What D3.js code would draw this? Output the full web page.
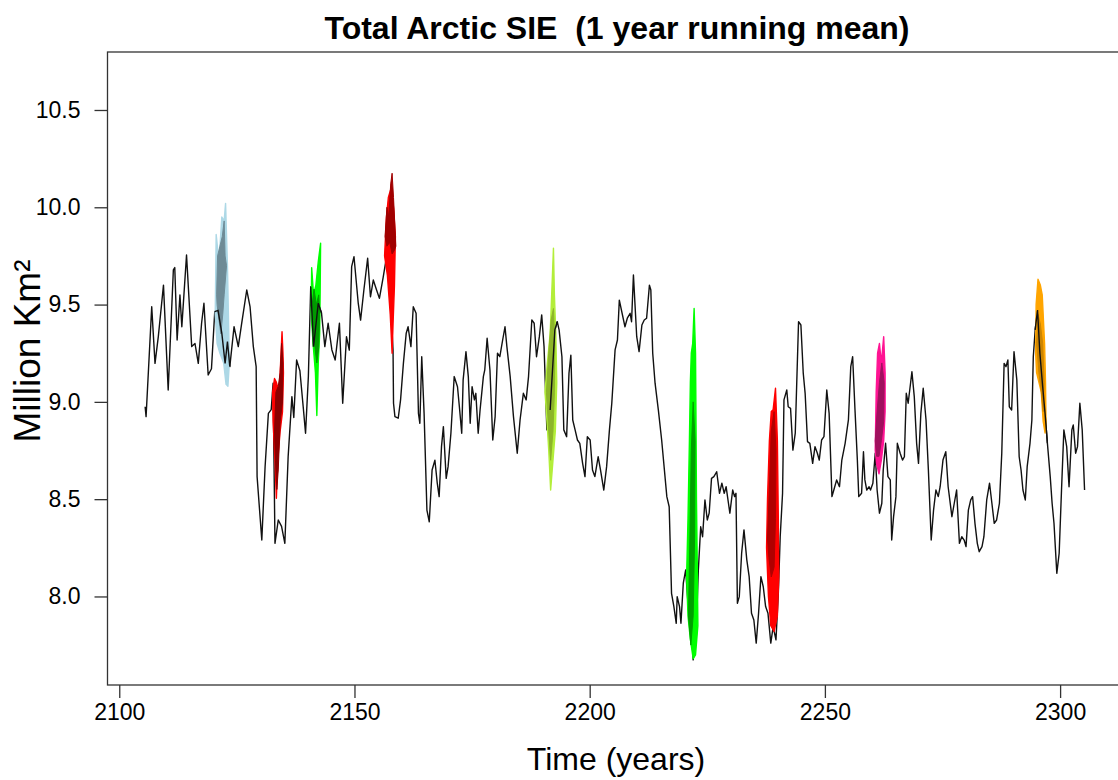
<!DOCTYPE html>
<html><head><meta charset="utf-8">
<script src="https://cdn.jsdelivr.net/npm/d3@7"></script>
<style>body{margin:0;background:#fff;} svg{display:block;font-family:"Liberation Sans",Arial,Helvetica,sans-serif;}</style>
</head><body><svg id="c" width="1118" height="780"></svg>
<script>
// ---- data ----
const years = [2105.5,2105.7,2106.9,2107.6,2108.3,2109.4,2110.4,2111.5,2111.8,2112.3,2112.9,2113.3,2114.3,2115.4,2116.1,2116.8,2117.5,2118.0,2118.9,2119.6,2120.3,2121.0,2121.8,2122.5,2123.0,2123.5,2124.4,2125.3,2126.0,2127.1,2127.8,2128.5,2129.1,2129.3,2130.3,2131.0,2131.7,2132.3,2132.7,2133.1,2133.8,2134.5,2135.2,2135.9,2136.7,2137.1,2137.7,2138.4,2139.1,2139.6,2140.2,2140.7,2141.3,2142.3,2143.0,2143.7,2144.4,2145.2,2145.9,2146.8,2147.5,2148.3,2148.9,2149.4,2149.9,2150.8,2151.3,2152.0,2152.8,2153.4,2154.0,2154.7,2155.3,2156.1,2156.7,2157.5,2158.2,2158.3,2158.6,2159.3,2159.8,2160.4,2161.0,2161.4,2162.0,2162.5,2163.1,2163.6,2163.9,2164.3,2164.8,2165.4,2165.9,2166.5,2167.1,2167.6,2168.0,2168.5,2168.9,2169.5,2169.9,2170.5,2171.2,2171.9,2172.3,2172.8,2173.1,2173.7,2174.2,2174.6,2175.0,2175.5,2175.8,2176.3,2176.7,2177.4,2177.7,2178.2,2178.8,2179.4,2179.9,2180.4,2180.9,2181.5,2182.0,2182.4,2183.1,2183.8,2184.6,2185.2,2185.9,2186.5,2187.0,2187.7,2188.2,2188.7,2189.3,2189.8,2190.3,2190.9,2191.6,2192.6,2193.1,2193.5,2194.1,2194.5,2195.1,2195.6,2196.0,2196.4,2196.9,2197.4,2197.9,2198.5,2199.0,2199.5,2200.1,2200.6,2201.1,2201.8,2202.3,2203.0,2203.6,2204.2,2204.7,2205.4,2205.9,2206.3,2207.5,2208.0,2208.6,2208.9,2209.3,2210.0,2210.5,2211.1,2211.6,2212.1,2212.7,2213.0,2213.4,2213.9,2214.6,2215.3,2216.4,2216.9,2217.4,2217.9,2218.4,2218.6,2219.1,2219.4,2219.9,2220.4,2221.0,2221.7,2222.0,2222.6,2223.1,2223.6,2224.0,2224.5,2225.0,2225.4,2225.9,2226.4,2227.0,2227.6,2228.1,2228.6,2229.0,2229.5,2229.8,2230.4,2230.8,2231.1,2231.4,2231.8,2232.3,2232.8,2233.4,2233.9,2234.4,2234.9,2235.4,2235.9,2236.4,2236.9,2237.4,2237.9,2238.5,2239.0,2239.6,2240.1,2240.5,2241.0,2241.3,2241.9,2242.2,2242.7,2243.2,2243.7,2244.4,2244.9,2245.4,2245.8,2246.3,2246.8,2247.4,2247.9,2248.4,2248.8,2249.3,2249.8,2250.4,2250.9,2251.5,2251.9,2252.5,2253.1,2253.6,2254.3,2255.0,2255.5,2255.9,2256.4,2256.9,2257.2,2257.8,2258.2,2258.5,2258.9,2259.4,2259.7,2260.2,2260.7,2261.1,2261.6,2262.1,2262.4,2262.9,2263.4,2263.9,2264.2,2264.6,2265.1,2265.4,2266.0,2266.5,2266.9,2267.3,2267.7,2268.5,2269.0,2269.5,2269.9,2270.4,2270.9,2271.5,2272.0,2272.6,2273.1,2273.6,2274.1,2274.5,2275.1,2275.7,2276.2,2277.0,2277.5,2278.0,2278.6,2279.1,2279.6,2280.0,2280.5,2281.0,2281.4,2281.9,2282.4,2282.8,2283.4,2283.8,2284.4,2285.0,2285.5,2286.0,2286.5,2287.1,2287.6,2288.1,2288.5,2288.9,2289.2,2289.7,2290.2,2290.8,2291.3,2291.7,2292.1,2292.6,2293.0,2293.6,2294.0,2294.3,2294.7,2295.2,2295.7,2296.3,2296.8,2297.3,2297.9,2298.3,2298.7,2299.3,2299.8,2300.3,2300.8,2301.4,2301.9,2302.5,2302.8,2303.3,2303.7,2304.2,2304.7,2305.2];
const sie = [8.975,8.924,9.489,9.198,9.335,9.60,9.061,9.678,9.69,9.318,9.549,9.386,9.755,9.284,9.30,9.198,9.404,9.507,9.138,9.17,9.464,9.47,9.353,9.198,9.31,9.181,9.386,9.284,9.40,9.575,9.49,9.284,9.181,8.616,8.29,8.667,8.941,8.96,9.096,8.273,8.393,8.36,8.273,8.718,9.027,8.92,9.215,9.16,8.975,8.839,9.13,9.592,9.284,9.507,9.455,9.284,9.404,9.267,9.215,9.404,8.993,9.335,9.266,9.695,9.746,9.507,9.42,9.575,9.738,9.54,9.626,9.575,9.532,9.64,9.729,9.6,9.267,8.993,8.924,8.916,9.01,9.198,9.353,9.386,9.284,9.489,9.455,8.941,8.89,9.232,8.941,8.444,8.384,8.65,8.70,8.582,8.513,8.77,8.873,8.607,8.667,8.839,9.13,9.078,8.975,8.839,9.113,9.258,9.13,8.89,9.078,9.01,9.044,8.839,8.958,9.13,9.164,9.327,9.164,8.804,8.924,9.25,9.232,9.318,9.386,9.284,9.13,8.924,8.736,8.907,9.044,9.01,9.13,9.421,9.404,9.232,9.335,9.447,9.284,8.856,8.958,9.37,9.412,9.37,9.232,8.856,8.821,9.147,9.24,8.907,8.856,8.804,8.787,8.684,8.616,8.821,8.804,8.65,8.616,8.718,8.65,8.547,8.667,8.856,8.993,9.267,9.318,9.523,9.386,9.43,9.455,9.412,9.652,9.335,9.258,9.395,9.421,9.43,9.60,9.575,9.25,9.096,8.958,8.804,8.513,8.461,8.016,7.948,7.862,7.999,7.948,7.862,8.068,8.136,7.93,7.81,7.674,7.793,8.136,8.358,8.307,8.496,8.393,8.428,8.607,8.616,8.641,8.53,8.582,8.53,8.564,8.479,8.428,8.547,8.513,8.53,7.965,7.999,8.222,8.342,8.188,8.102,7.914,7.879,7.76,7.914,8.102,8.05,7.948,7.914,7.76,7.845,7.777,8.016,8.307,8.53,9.01,9.061,8.975,8.967,8.752,8.839,9.412,9.395,9.147,9.044,8.796,8.787,8.684,8.77,8.736,8.701,8.804,8.821,9.061,8.941,8.513,8.547,8.599,8.564,8.701,8.787,8.907,9.181,9.232,8.958,8.701,8.513,8.53,8.744,8.599,8.547,8.564,8.547,8.582,8.736,8.547,8.428,8.479,8.65,8.787,8.616,8.599,8.29,8.41,8.513,8.787,8.736,8.701,8.718,9.044,8.993,9.155,9.027,8.787,8.684,8.941,9.07,8.907,8.65,8.29,8.444,8.547,8.513,8.564,8.701,8.744,8.564,8.41,8.479,8.547,8.273,8.307,8.29,8.256,8.444,8.496,8.513,8.376,8.273,8.23,8.256,8.307,8.496,8.582,8.479,8.376,8.393,8.479,8.736,9.198,9.181,9.215,8.975,8.958,9.258,9.113,8.718,8.65,8.547,8.496,8.667,8.787,8.907,9.232,9.37,9.472,9.25,9.078,8.941,8.787,8.616,8.479,8.376,8.119,8.222,8.547,8.856,8.77,8.564,8.856,8.881,8.736,8.77,8.993,8.856,8.547];

const xTicks = [2100, 2150, 2200, 2250, 2300];
const yTicks = [8.0, 8.5, 9.0, 9.5, 10.0, 10.5];

// ensemble fans: [year, value] outlines
const fanBlueLight = [[2120.4,9.45],[2120.6,9.86],[2121.2,9.72],[2121.8,9.95],[2122.3,9.93],[2122.6,10.02],[2123.0,9.70],[2123.4,9.20],[2123.1,9.08],[2122.7,9.09],[2122.2,9.20],[2121.4,9.25],[2120.8,9.30]];
const fanBlueDark = [[2120.7,9.55],[2120.9,9.75],[2121.4,9.80],[2121.9,9.85],[2122.3,9.93],[2122.5,9.75],[2122.8,9.70],[2122.3,9.55],[2122.0,9.45],[2121.6,9.35],[2121.2,9.42],[2120.8,9.50]];
const fanRed1Light = [[2132.6,9.05],[2133.0,9.12],[2133.4,9.10],[2134.0,9.05],[2134.3,9.20],[2134.6,9.36],[2134.8,9.25],[2134.9,9.15],[2134.7,8.95],[2134.2,8.85],[2133.7,8.70],[2133.4,8.505],[2133.1,8.70],[2132.7,8.90]];
const fanRed1Dark = [[2133.0,8.85],[2133.3,9.05],[2133.8,9.08],[2134.2,9.15],[2134.5,9.30],[2134.8,9.20],[2134.7,9.00],[2134.2,8.90],[2133.8,8.65],[2133.5,8.55],[2133.2,8.70]];
const fanGreen1Light = [[2140.8,9.45],[2140.9,9.69],[2141.3,9.55],[2141.8,9.60],[2142.3,9.72],[2142.8,9.815],[2142.7,9.55],[2142.6,9.35],[2142.3,9.20],[2142.0,8.93],[2141.7,9.15],[2141.2,9.30]];
const fanGreen1Dark = [[2141.0,9.50],[2141.4,9.58],[2141.9,9.50],[2142.4,9.55],[2142.6,9.45],[2142.4,9.28],[2142.0,9.20],[2141.6,9.28],[2141.2,9.40]];
const fanRed2Light = [[2156.4,9.75],[2156.8,9.95],[2157.2,10.05],[2157.8,10.10],[2158.3,10.0],[2158.7,9.85],[2158.5,9.60],[2158.2,9.40],[2158.0,9.25],[2157.6,9.45],[2157.0,9.65]];
const fanRed2Dark = [[2156.5,9.85],[2156.9,10.0],[2157.3,9.95],[2157.7,10.12],[2158.0,10.175],[2158.3,10.05],[2158.8,9.80],[2158.5,9.78],[2158.0,9.76],[2157.5,9.82],[2156.9,9.80]];
const fanOliveLight = [[2190.5,9.05],[2191.0,9.20],[2191.6,9.35],[2192.0,9.60],[2192.3,9.79],[2192.5,9.55],[2192.8,9.35],[2193.0,9.10],[2192.7,8.85],[2192.2,8.70],[2191.7,8.547],[2191.3,8.75],[2190.8,8.95]];
const fanOliveDark = [[2190.8,9.05],[2191.3,9.25],[2191.8,9.42],[2192.3,9.48],[2192.6,9.30],[2192.5,9.05],[2192.2,8.85],[2191.7,8.70],[2191.3,8.85]];
const fanGreen2Light = [[2220.6,8.10],[2220.9,8.40],[2221.2,8.80],[2221.4,9.10],[2221.6,9.25],[2221.9,9.30],[2222.2,9.48],[2222.5,9.25],[2222.6,8.90],[2222.7,8.50],[2222.9,8.10],[2223.0,7.85],[2222.5,7.70],[2222.0,7.68],[2221.4,7.78],[2220.9,7.90]];
const fanGreen2Dark = [[2221.0,7.90],[2221.3,8.30],[2221.6,8.75],[2222.0,9.00],[2222.4,8.80],[2222.3,8.30],[2222.0,7.90],[2221.5,7.75]];
const fanRed3Light = [[2237.6,8.25],[2237.8,8.50],[2238.2,8.80],[2238.6,8.95],[2239.0,8.96],[2239.5,9.07],[2239.9,8.80],[2240.1,8.40],[2240.2,8.10],[2239.9,7.90],[2239.2,7.82],[2238.5,7.85],[2238.0,8.00]];
const fanRed3Dark = [[2237.8,8.30],[2238.2,8.55],[2238.6,8.85],[2239.2,8.95],[2239.6,8.75],[2239.5,8.40],[2239.2,8.15],[2238.6,8.10],[2238.1,8.20]];
const fanPinkLight = [[2260.7,8.75],[2260.9,9.05],[2261.2,9.25],[2261.6,9.30],[2262.0,9.20],[2262.5,9.335],[2262.8,9.15],[2262.8,8.95],[2262.5,8.80],[2262.0,8.70],[2261.5,8.63],[2261.0,8.68]];
const fanPinkDark = [[2260.7,8.80],[2261.1,8.95],[2261.6,9.10],[2262.1,9.20],[2262.6,9.10],[2262.5,8.90],[2262.0,8.80],[2261.5,8.72],[2261.0,8.72]];
const fanOrangeLight = [[2294.8,9.25],[2294.9,9.50],[2295.3,9.63],[2295.8,9.60],[2296.2,9.55],[2296.7,9.30],[2296.9,9.10],[2297.0,8.90],[2296.8,8.84],[2296.4,8.90],[2296.0,9.05],[2295.5,9.10],[2295.0,9.15]];
const fanOrangeDark = [[2295.0,9.30],[2295.3,9.45],[2295.8,9.40],[2296.3,9.30],[2296.6,9.10],[2296.4,8.95],[2296.0,9.05],[2295.5,9.15]];

const fans = [
  {light: fanBlueLight, dark: fanBlueDark, c1: "#ADD8E6", c2: "#6E8B96", overlay: [2120.3, 2123.5]},
  {light: fanRed1Light, dark: fanRed1Dark, c1: "#FF0000", c2: "#8B0000"},
  {light: fanGreen1Light, dark: fanGreen1Dark, c1: "#00FF00", c2: "#009A00", overlay: [2140.7, 2143.0]},
  {light: fanRed2Light, dark: fanRed2Dark, c1: "#FF0000", c2: "#A00000"},
  {light: fanOliveLight, dark: fanOliveDark, c1: "#B3EE3A", c2: "#8DB52A", overlay: [2191.6, 2193.1]},
  {light: fanGreen2Light, dark: fanGreen2Dark, c1: "#00FF00", c2: "#00A000"},
  {light: fanRed3Light, dark: fanRed3Dark, c1: "#FF0000", c2: "#B00000"},
  {light: fanPinkLight, dark: fanPinkDark, c1: "#FF1493", c2: "#A0105E"},
  {light: fanOrangeLight, dark: fanOrangeDark, c1: "#FFA500", c2: "#CD8500", overlay: [2294.5, 2297.3]}
];

// ---- layout ----
const L = 107.5, R = 1122.2, T = 52, B = 685;
const x = d3.scaleLinear().domain([2097.5, 2313.2]).range([L, R]);
const y = d3.scaleLinear().domain([7.545, 10.798]).range([B, T]);
const svg = d3.select("#c");
svg.append("rect").attr("width",1118).attr("height",780).attr("fill","#fff");

const pts = years.map((yr, i) => [yr, sie[i]]);
const line = d3.line().x(d => x(d[0])).y(d => y(d[1]));
const poly = d3.line().x(d => x(d[0])).y(d => y(d[1])).curve(d3.curveLinearClosed);

const plot = svg.append("g");
plot.append("path").attr("d", line(pts)).attr("fill","none").attr("stroke","#111").attr("stroke-width",1.4).attr("stroke-linejoin","round");

fans.forEach(f => {
  plot.append("path").attr("d", poly(f.light)).attr("fill", f.c1).attr("stroke", f.c1).attr("stroke-width", 1.4).attr("stroke-linejoin","round");
  plot.append("path").attr("d", poly(f.dark)).attr("fill", f.c2).attr("stroke", f.c2).attr("stroke-width", 1).attr("stroke-linejoin","round");
  if (f.overlay) {
    const seg = pts.filter(p => p[0] >= f.overlay[0] && p[0] <= f.overlay[1]);
    plot.append("path").attr("d", line(seg)).attr("fill","none").attr("stroke","#111").attr("stroke-width",1.4);
  }
});

// box
svg.append("rect").attr("x", L).attr("y", T).attr("width", R - L).attr("height", B - T)
  .attr("fill","none").attr("stroke","#333").attr("stroke-width",1.3);

// x axis
const xa = svg.append("g").attr("transform", `translate(0,${B})`)
  .call(d3.axisBottom(x).tickValues(xTicks).tickSize(13).tickPadding(6).tickFormat(d3.format("d")));
xa.select(".domain").remove();
xa.selectAll("line").attr("stroke","#333").attr("stroke-width",1.3);
xa.selectAll("text").attr("font-size","23px").attr("fill","#000").attr("font-family","Liberation Sans, Arial, sans-serif");

// y axis
const ya = svg.append("g").attr("transform", `translate(${L},0)`)
  .call(d3.axisLeft(y).tickValues(yTicks).tickSize(13).tickPadding(14).tickFormat(d3.format(".1f")));
ya.select(".domain").remove();
ya.selectAll("line").attr("stroke","#333").attr("stroke-width",1.3);
ya.selectAll("text").attr("font-size","23px").attr("fill","#000").attr("font-family","Liberation Sans, Arial, sans-serif");

// titles
svg.append("text").attr("x", 617).attr("y", 39).attr("text-anchor","middle").style("white-space","pre")
  .attr("font-size","32px").attr("font-weight","bold").text("Total Arctic SIE  (1 year running mean)");
svg.append("text").attr("x", 616).attr("y", 770).attr("text-anchor","middle")
  .attr("font-size","32px").text("Time (years)");
svg.append("text").attr("transform", `translate(40,351) rotate(-90)`).attr("text-anchor","middle")
  .attr("font-size","37px").text("Million Km²");
</script></body></html>
